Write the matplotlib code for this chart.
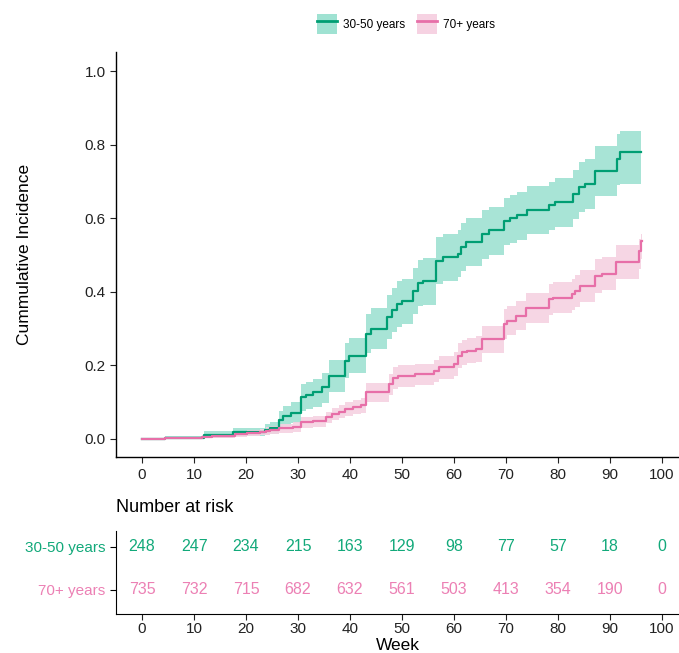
import numpy as np
import matplotlib
matplotlib.use('Agg')
import matplotlib.pyplot as plt
from matplotlib.patches import Patch
from matplotlib.lines import Line2D

plt.rcParams['font.family'] = ['Liberation Sans', 'DejaVu Sans']

# 30-50 years: step times (weeks), cumulative incidence, CI lower/upper
young_t = [0, 4.4, 11.9, 17.5, 23.6, 24.6, 26.3, 27.1, 28.7, 30.5, 31.6, 32.9, 34.6, 35.9,
           39.0, 39.9, 43.1, 44.1, 47.2, 48.0, 49.0, 50.1, 52.1, 53.1, 54.0, 56.5, 57.8,
           60.7, 61.3, 62.4, 65.4, 66.7, 69.7, 70.8, 72.1, 74.1, 78.3, 79.5, 82.9, 84.0,
           85.3, 87.2, 91.4, 92.0]
young_v = [0, 0.003, 0.011, 0.017, 0.024, 0.028, 0.05, 0.062, 0.07, 0.113, 0.12, 0.126, 0.14,
           0.172, 0.212, 0.226, 0.286, 0.30, 0.33, 0.35, 0.368, 0.374, 0.403, 0.423, 0.428,
           0.485, 0.494, 0.504, 0.521, 0.535, 0.558, 0.567, 0.592, 0.60, 0.608, 0.623, 0.635,
           0.644, 0.667, 0.685, 0.694, 0.730, 0.762, 0.780]
young_lo = [0, 0, 0.003, 0.007, 0.01, 0.012, 0.028, 0.036, 0.043, 0.075, 0.08, 0.086, 0.098,
            0.128, 0.165, 0.178, 0.232, 0.245, 0.272, 0.29, 0.305, 0.312, 0.34, 0.36, 0.365,
            0.42, 0.43, 0.44, 0.456, 0.47, 0.49, 0.5, 0.526, 0.534, 0.542, 0.556, 0.568,
            0.576, 0.598, 0.616, 0.624, 0.66, 0.69, 0.694]
young_hi = [0, 0.008, 0.022, 0.03, 0.04, 0.045, 0.075, 0.088, 0.1, 0.148, 0.155, 0.162, 0.178,
            0.215, 0.26, 0.275, 0.34, 0.356, 0.39, 0.41, 0.43, 0.436, 0.466, 0.487, 0.492,
            0.55, 0.558, 0.568, 0.586, 0.6, 0.622, 0.632, 0.656, 0.664, 0.672, 0.687, 0.7,
            0.71, 0.732, 0.752, 0.762, 0.797, 0.83, 0.838]
young_end = 95.9

# 70+ years
old_t = [0, 4.4, 11.6, 13.5, 17.8, 20.2, 22.6, 23.8, 24.7, 26.3, 29.0, 30.6, 32.8, 35.3,
         36.6, 37.8, 39.0, 40.6, 42.1, 43.1, 47.6, 48.3, 49.3, 52.5, 56.2, 57.2, 60.1, 60.7,
         61.6, 62.6, 64.2, 65.4, 69.7, 70.3, 71.9, 73.8, 78.3, 79.0, 82.7, 83.3, 84.3, 87.2,
         88.5, 91.1, 95.6, 95.9]
old_v = [0, 0.002, 0.006, 0.008, 0.012, 0.015, 0.018, 0.021, 0.025, 0.028, 0.032, 0.045,
         0.048, 0.058, 0.067, 0.074, 0.082, 0.086, 0.091, 0.126, 0.148, 0.165, 0.171, 0.175,
         0.185, 0.194, 0.203, 0.226, 0.235, 0.24, 0.244, 0.271, 0.312, 0.321, 0.335, 0.357,
         0.38, 0.384, 0.393, 0.402, 0.416, 0.443, 0.449, 0.48, 0.511, 0.538]
old_lo = [0, 0, 0.001, 0.002, 0.005, 0.007, 0.009, 0.011, 0.014, 0.016, 0.019, 0.03, 0.033,
          0.042, 0.05, 0.056, 0.063, 0.066, 0.07, 0.1, 0.12, 0.136, 0.142, 0.146, 0.155,
          0.163, 0.171, 0.192, 0.2, 0.205, 0.208, 0.234, 0.272, 0.281, 0.295, 0.316, 0.338,
          0.342, 0.35, 0.359, 0.372, 0.398, 0.404, 0.434, 0.462, 0.49]
old_hi = [0, 0.005, 0.011, 0.014, 0.019, 0.023, 0.027, 0.031, 0.036, 0.04, 0.045, 0.06,
          0.063, 0.074, 0.084, 0.092, 0.101, 0.106, 0.112, 0.152, 0.176, 0.194, 0.2, 0.204,
          0.215, 0.225, 0.235, 0.26, 0.27, 0.275, 0.28, 0.308, 0.352, 0.361, 0.375, 0.398,
          0.422, 0.426, 0.436, 0.445, 0.46, 0.488, 0.494, 0.526, 0.545, 0.556]
old_end = 96.2

# number at risk table
risk_weeks = [0, 10, 20, 30, 40, 50, 60, 70, 80, 90, 100]
risk_young = [248, 247, 234, 215, 163, 129, 98, 77, 57, 18, 0]
risk_old = [735, 732, 715, 682, 632, 561, 503, 413, 354, 190, 0]

groups = ['30-50 years', '70+ years']
line_cols = ['#009E73', '#E76FA8']
band_cols = ['#9FE2D2', '#F6D2E2']
text_cols = ['#12A97A', '#EC80B4']

fig = plt.figure(figsize=(6.79, 6.53), dpi=100)
ax = fig.add_axes([0.171, 0.300, 0.829, 0.620])

curves = [(young_t, young_v, young_lo, young_hi, young_end),
          (old_t, old_v, old_lo, old_hi, old_end)]
for (t, v, lo, hi, end), lc, bc in zip(curves, line_cols, band_cols):
    tt = list(t) + [end]
    ax.fill_between(tt, list(lo) + [lo[-1]], list(hi) + [hi[-1]], step='post',
                    color=bc, linewidth=0, alpha=0.9)
for (t, v, lo, hi, end), lc in zip(curves, line_cols):
    tt = list(t) + [end]
    ax.plot(tt, list(v) + [v[-1]], drawstyle='steps-post', color=lc, linewidth=1.6)

ax.set_xlim(-5, 103.3)
ax.set_ylim(-0.05, 1.052)
ax.set_xticks(risk_weeks)
ax.set_yticks([0, 0.2, 0.4, 0.6, 0.8, 1.0])
ax.set_yticklabels(['0.0', '0.2', '0.4', '0.6', '0.8', '1.0'])
ax.set_ylabel('Cummulative Incidence', fontsize=12.5, labelpad=38)
for s in ['top', 'right']:
    ax.spines[s].set_visible(False)
for s in ['left', 'bottom']:
    ax.spines[s].set_linewidth(1.0)
ax.tick_params(labelsize=11, colors='#222222', length=4, width=0.8)

handles = [(Patch(facecolor=bc, edgecolor='none'), Line2D([], [], color=lc, linewidth=2))
           for lc, bc in zip(line_cols, band_cols)]
fig.legend(handles, groups, loc='upper center', bbox_to_anchor=(0.598, 0.995), ncol=2,
           frameon=False, fontsize=8.5, handlelength=1.7, handleheight=2.3,
           columnspacing=1.0, handletextpad=0.5)

# risk table
rax = fig.add_axes([0.171, 0.0597, 0.829, 0.127])
rax.set_xlim(-5, 103.3)
rax.set_ylim(0.44, 2.37)
for w, n in zip(risk_weeks, risk_young):
    rax.text(w, 2, str(n), ha='center', va='center', color=text_cols[0], fontsize=11.5)
for w, n in zip(risk_weeks, risk_old):
    rax.text(w, 1, str(n), ha='center', va='center', color=text_cols[1], fontsize=11.5)
rax.set_yticks([2, 1])
rax.set_yticklabels(groups)
for lab, c in zip(rax.get_yticklabels(), text_cols):
    lab.set_color(c)
rax.set_xticks(risk_weeks)
rax.set_xlabel('Week', fontsize=12.5, labelpad=1.5)
for s in ['top', 'right']:
    rax.spines[s].set_visible(False)
rax.tick_params(labelsize=11, length=4, width=0.8)
rax.tick_params(axis='x', colors='#222222', pad=2)
rax.tick_params(axis='y', labelsize=11)
rax.text(-5, 2.92, 'Number at risk', fontsize=13, ha='left', va='center')

fig.savefig('out.png', dpi=100)
